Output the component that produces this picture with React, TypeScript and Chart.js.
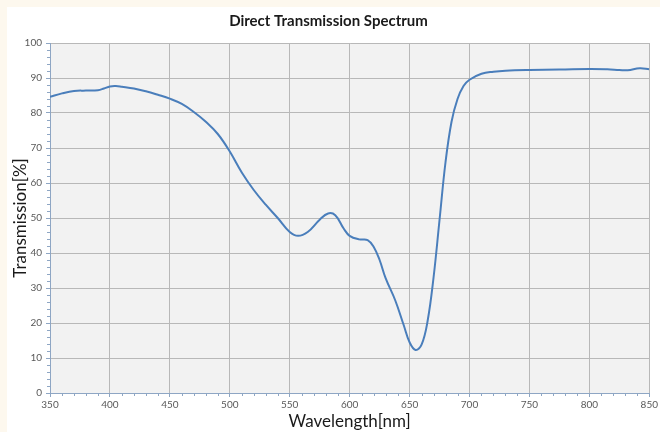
import React, { useEffect, useRef } from "react";
import { Chart, registerables } from "chart.js";

Chart.register(...registerables);

const wavelengths = [
  350, 360, 370, 380, 390, 395, 400, 405, 410, 420, 430, 440, 450, 460, 470, 480,
  490, 500, 510, 520, 530, 540, 550, 557, 565, 575, 582, 588, 595, 600, 608, 615,
  620, 625, 630, 638, 645, 650, 655, 660, 665, 670, 675, 680, 685, 690, 695, 700,
  710, 720, 730, 750, 775, 800, 815, 825, 832, 842, 850,
];
const transmission = [
  84.6, 85.6, 86.3, 86.4, 86.5, 87.0, 87.6, 87.7, 87.5, 87.0, 86.2, 85.2, 84.1, 82.6, 80.3, 77.5,
  74.0, 69.0, 63.0, 58.0, 53.8, 50.0, 46.0, 44.9, 46.0, 49.5, 51.3, 50.8, 47.0, 44.9, 43.9, 43.7,
  41.8, 38.0, 32.8, 26.5, 19.5, 14.5, 12.3, 13.8, 20.5, 33.0, 49.5, 66.0, 77.5, 84.0, 87.7, 89.5,
  91.2, 91.8, 92.1, 92.3, 92.4, 92.6, 92.5, 92.3, 92.2, 92.8, 92.5,
];

const titleText = "Direct Transmission Spectrum";
const xTitle = "Wavelength[nm]";
const yTitle = "Transmission[%]";
const xMin = 350, xMax = 850, xStep = 50, xMinor = 10;
const yMin = 0, yMax = 100, yStep = 10, yMinor = 2;

const FONT = "Lato, 'Open Sans', sans-serif";
const AXIS = "#8ea6c4";

const bgPlugin = {
  id: "plotBg",
  beforeDraw(chart: any) {
    const { ctx, chartArea: a } = chart;
    ctx.save();
    ctx.fillStyle = "#f2f2f2";
    ctx.fillRect(a.left, a.top, a.right - a.left, a.bottom - a.top);
    ctx.restore();
  },
};

const minorPlugin = {
  id: "minorTicks",
  afterDraw(chart: any) {
    const { ctx, chartArea: a } = chart;
    const xs = chart.scales.x;
    const ys = chart.scales.y;
    ctx.save();
    ctx.strokeStyle = AXIS;
    ctx.lineWidth = 1;
    ctx.beginPath();
    for (let v = xMin; v <= xMax; v += xMinor) {
      if (v % xStep === 0) continue;
      const px = Math.round(xs.getPixelForValue(v)) + 0.5;
      ctx.moveTo(px, a.bottom);
      ctx.lineTo(px, a.bottom + 3);
    }
    for (let v = yMin; v <= yMax; v += yMinor) {
      if (v % yStep === 0) continue;
      const py = Math.round(ys.getPixelForValue(v)) + 0.5;
      ctx.moveTo(a.left - 3, py);
      ctx.lineTo(a.left, py);
    }
    ctx.stroke();
    ctx.restore();
  },
};

export default function App() {
  const ref = useRef<HTMLCanvasElement | null>(null);
  useEffect(() => {
    document.body.style.margin = "0";
    document.body.style.overflow = "hidden";
    const chart = new Chart(ref.current!, {
      type: "line",
      data: {
        datasets: [
          {
            data: wavelengths.map((w, i) => ({ x: w, y: transmission[i] })),
            borderColor: "#4a7ebb",
            borderWidth: 2,
            pointRadius: 0,
            tension: 0.4,
            fill: false,
          },
        ],
      },
      options: {
        animation: false,
        responsive: true,
        maintainAspectRatio: false,
        layout: { padding: { left: 0, right: 10, top: 0, bottom: 0 } },
        plugins: {
          legend: { display: false },
          tooltip: { enabled: false },
          title: {
            display: true,
            text: titleText,
            color: "#1a1a1a",
            font: { family: FONT, size: 15, weight: "bold" },
            padding: { top: 5, bottom: 13 },
          },
        },
        scales: {
          x: {
            type: "linear",
            min: xMin,
            max: xMax,
            afterFit(s: any) { s.height = 39; },
            ticks: { stepSize: xStep, color: "#595959", font: { family: FONT, size: 10 }, padding: 2, maxRotation: 0 },
            grid: { color: "#b8b8b8", tickColor: AXIS, tickLength: 4 },
            border: { color: AXIS, width: 1 },
            title: {
              display: true,
              text: xTitle,
              color: "#1a1a1a",
              font: { family: FONT, size: 17 },
              padding: { top: 0, bottom: 0 },
            },
          },
          y: {
            min: yMin,
            max: yMax,
            afterFit(s: any) { s.width = 43; },
            ticks: { stepSize: yStep, color: "#595959", font: { family: FONT, size: 10 }, padding: 4 },
            grid: { color: "#b8b8b8", tickColor: AXIS, tickLength: 4 },
            border: { color: AXIS, width: 1 },
            title: {
              display: true,
              text: yTitle,
              color: "#1a1a1a",
              font: { family: FONT, size: 17 },
              padding: { top: 3, bottom: 0 },
            },
          },
        },
      },
      plugins: [bgPlugin, minorPlugin],
    } as any);
    return () => chart.destroy();
  }, []);
  return (
    <div style={{ position: "fixed", left: 0, top: 0, width: 660, height: 432, background: "#fdf8ee" }}>
      <div style={{ position: "absolute", left: 7, top: 7, width: 653, height: 425, background: "#ffffff" }}>
        <canvas ref={ref} />
      </div>
    </div>
  );
}
